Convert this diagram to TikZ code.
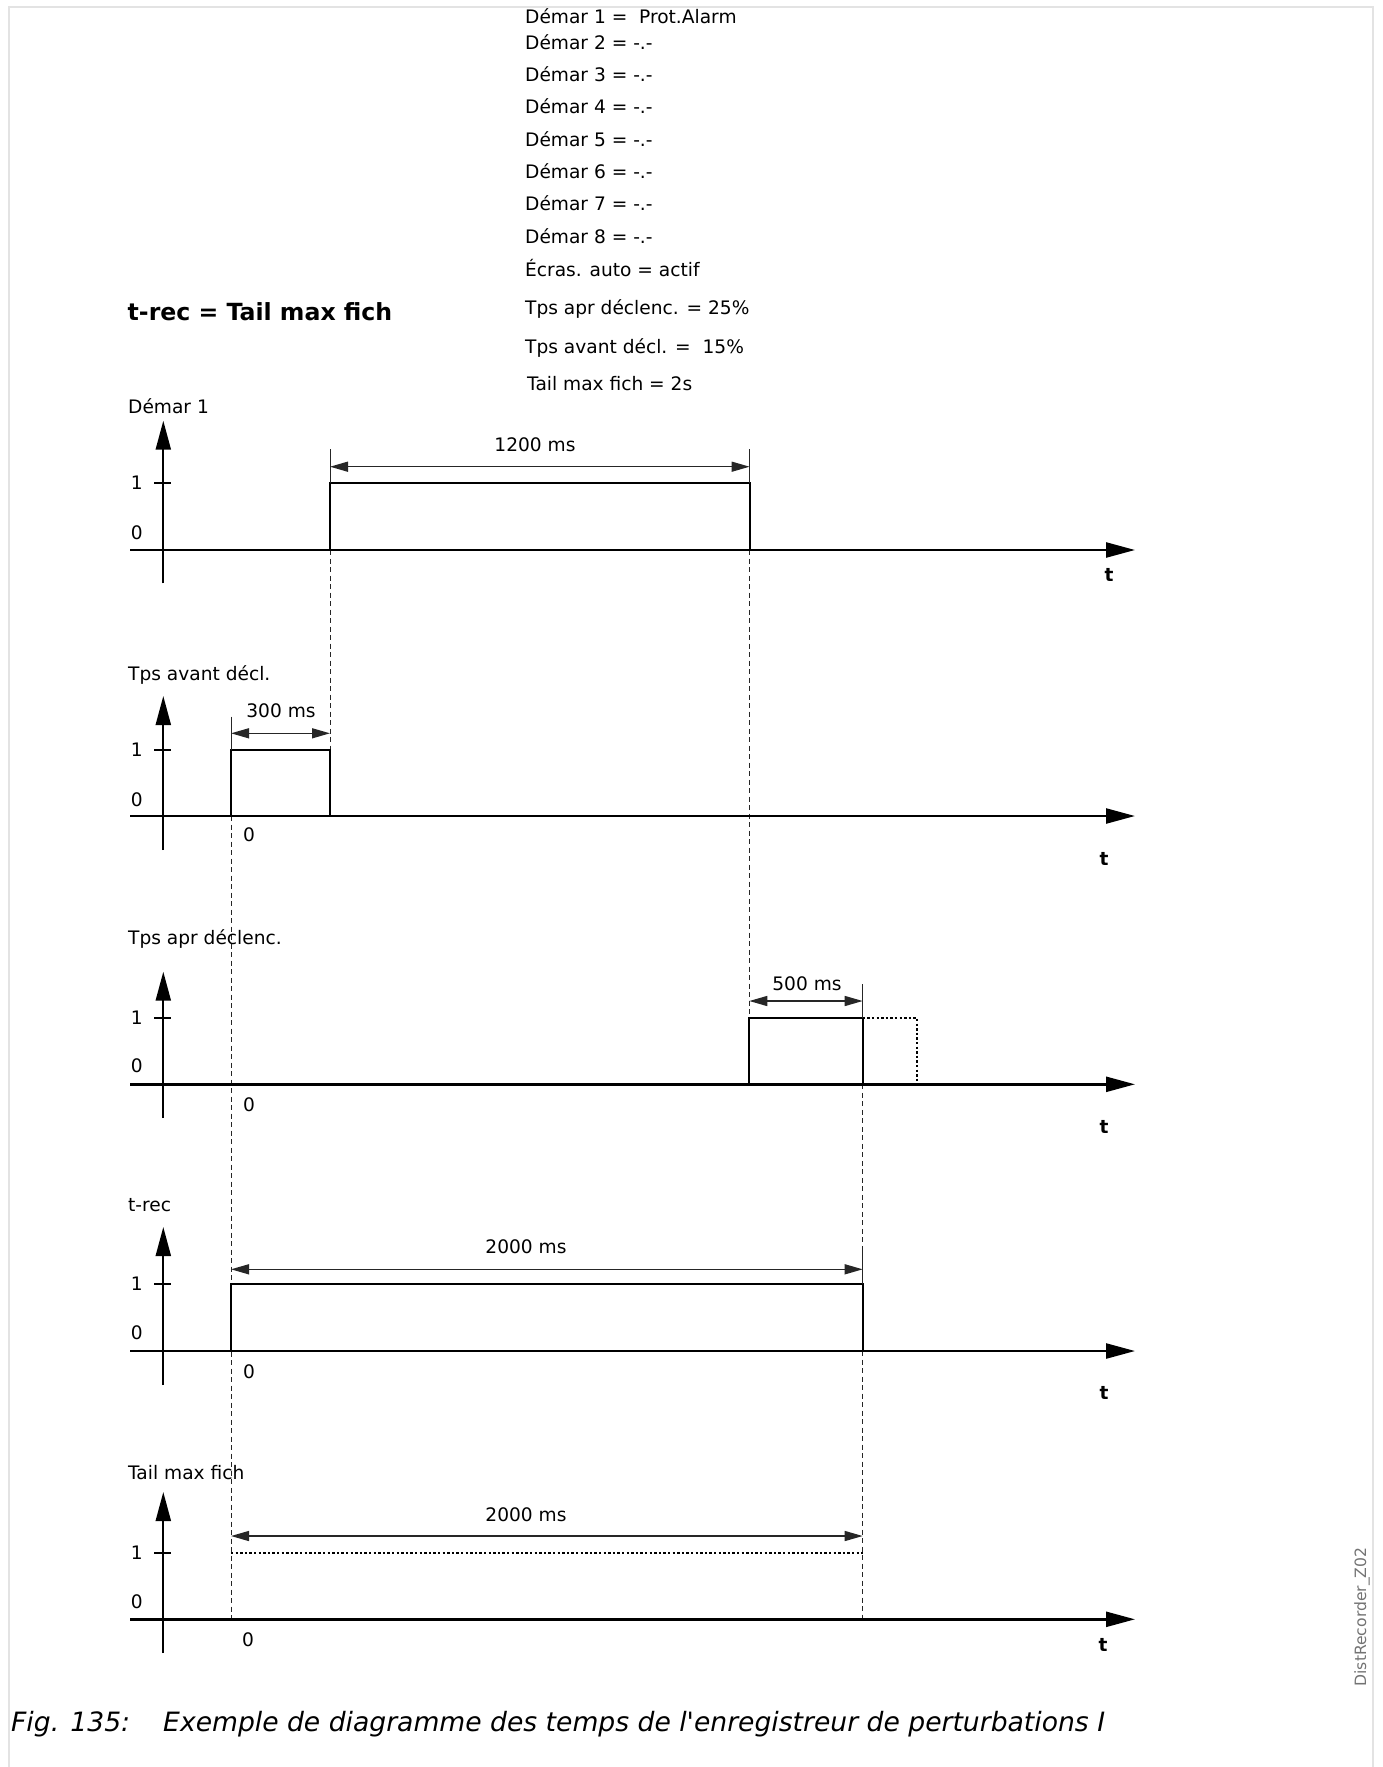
\documentclass[tikz,border=0pt]{standalone}
\usepackage{fontspec}
\setmainfont{DejaVu Sans}[Ligatures=TeXOff]
\usetikzlibrary{arrows.meta}
\definecolor{framec}{HTML}{E3E3E3}
\definecolor{dimc}{HTML}{262626}
\begin{document}
\begin{tikzpicture}[x=1pt,y=-1pt,
 txt/.style={font=\fontsize{18.6}{22}\selectfont,inner sep=0pt,anchor=base west},
 ctxt/.style={font=\fontsize{18.6}{22}\selectfont,inner sep=0pt,anchor=base},
 tlab/.style={font=\bfseries\fontsize{18.6}{22}\selectfont,inner sep=0pt,anchor=center},
 axisline/.style={line width=2.4pt,-{Triangle[length=29pt,width=15pt]}},
 yaxisline/.style={line width=2.2pt,-{Triangle[length=29pt,width=15pt]}},
 tickline/.style={line width=2pt},
 sig/.style={line width=2.2pt,line join=miter},
 dotsig/.style={line width=2.1pt,dash pattern=on 2.4pt off 2.2pt},
 dimline/.style={line width=1.4pt,dimc,{Triangle[length=18pt,width=10pt]}-{Triangle[length=18pt,width=10pt]}},
 extline/.style={line width=1pt,dimc},
 guide/.style={line width=1pt,dash pattern=on 5pt off 3.5pt,black!85},
 capt/.style={font=\itshape\fontsize{26.6}{30}\selectfont,inner sep=0pt,anchor=base west},
]
\useasboundingbox (0,0) rectangle (1382,1767);
\draw[framec,line width=2pt] (9,1767) -- (9,6.5) -- (1373,6.5) -- (1373,1767);

% settings list
\node[txt] (s1) at (525,23.5) {Démar 1 = \ Prot.Alarm};
\node[txt] (s2) at (525,49.5) {Démar 2 = -.-};
\node[txt] (s3) at (525,81.8) {Démar 3 = -.-};
\node[txt] (s4) at (525,113.5) {Démar 4 = -.-};
\node[txt] (s5) at (525,146.1) {Démar 5 = -.-};
\node[txt] (s6) at (525,178.5) {Démar 6 = -.-};
\node[txt] (s7) at (525,210.8) {Démar 7 = -.-};
\node[txt] (s8) at (525,243.5) {Démar 8 = -.-};
\node[txt] (s9) at (525,276.8) {Écras. auto = actif};
\node[txt] (s10) at (525,314.1) {Tps apr déclenc. = 25\%};
\node[txt] (s11) at (525,353.5) {Tps avant décl. = \ 15\%};
\node[txt] (s12) at (527,390.1) {Tail max fich = 2s};
\node[anchor=base west,font=\bfseries\fontsize{23.6}{26}\selectfont,inner sep=0pt] (title) at (127.5,320.3) {t-rec = Tail max fich};

% guides
\draw[guide] (330,550) -- (330,750);
\draw[guide] (749.5,550) -- (749.5,1017.7);
\draw[guide] (231,816) -- (231,1619.3);
\draw[guide] (862.7,1084.3) -- (862.7,1247);
\draw[guide] (862.7,1351) -- (862.7,1619.3);

% row 1
\node[txt] (l1) at (128,413.5) {Démar 1};
\draw[yaxisline] (163.3,583.3) -- (163.3,420.7);
\draw[tickline] (154,482.7) -- (171,482.7);
\draw[axisline] (130,550) -- (1135,550);
\node[ctxt] (r1one) at (136.7,489.5) {1};
\node[ctxt] (r1zero) at (136.7,539.8) {0};
\node[tlab] (r1t) at (1109,575) {t};
\draw[sig] (330,550) -- (330,482.7) -- (749.6,482.7) -- (749.6,550);
\draw[extline] (330,449) -- (330,482.7);
\draw[extline] (749.6,449) -- (749.6,482.7);
\draw[dimline] (330,466.7) -- (749.6,466.7);
\node[ctxt] (d1) at (535,451.8) {1200 ms};

% row 2
\node[txt] (l2) at (128,680.8) {Tps avant décl.};
\draw[yaxisline] (163.3,850) -- (163.3,696);
\draw[tickline] (154,750) -- (171,750);
\draw[axisline] (130,816) -- (1135,816);
\node[ctxt] (r2one) at (136.7,756.8) {1};
\node[ctxt] (r2zero) at (136.7,806.1) {0};
\node[ctxt] (r2o) at (249,841.8) {0};
\node[tlab] (r2t) at (1104,859) {t};
\draw[sig] (231,816) -- (231,750) -- (330,750) -- (330,816);
\draw[extline] (231,716.7) -- (231,750);
\draw[dimline] (231,733.3) -- (330,733.3);
\node[ctxt] (d2) at (281,717.5) {300 ms};

% row 3
\node[txt] (l3) at (128,944.8) {Tps apr déclenc.};
\draw[yaxisline] (163.3,1118) -- (163.3,971.7);
\draw[tickline] (154,1017.7) -- (171,1017.7);
\draw[axisline] (130,1084.3) -- (1135,1084.3);
\node[ctxt] (r3one) at (136.7,1024.5) {1};
\node[ctxt] (r3zero) at (136.7,1072.8) {0};
\node[ctxt] (r3o) at (249,1111.8) {0};
\node[tlab] (r3t) at (1104,1126.7) {t};
\draw[sig] (749.3,1084.3) -- (749.3,1017.7) -- (862.7,1017.7) -- (862.7,1084.3);
\draw[dotsig] (862.7,1017.7) -- (916.7,1017.7) -- (916.7,1084.3);
\draw[extline] (862.7,984) -- (862.7,1017.7);
\draw[dimline] (749.3,1001) -- (862.7,1001);
\node[ctxt] (d3) at (807,990.1) {500 ms};

% row 4
\node[txt] (l4) at (128,1211.8) {t-rec};
\draw[yaxisline] (163.3,1385) -- (163.3,1227);
\draw[tickline] (154,1284) -- (171,1284);
\draw[axisline] (130,1351) -- (1135,1351);
\node[ctxt] (r4one) at (136.7,1290.8) {1};
\node[ctxt] (r4zero) at (136.7,1339.8) {0};
\node[ctxt] (r4o) at (249,1378.8) {0};
\node[tlab] (r4t) at (1104,1393.3) {t};
\draw[sig] (231,1351) -- (231,1284) -- (862.7,1284) -- (862.7,1351);
\draw[extline] (862.7,1247) -- (862.7,1284);
\draw[dimline] (231,1269.3) -- (862.7,1269.3);
\node[ctxt] (d4) at (526,1253.8) {2000 ms};

% row 5
\node[txt] (l5) at (128,1479.8) {Tail max fich};
\draw[yaxisline] (163.3,1653) -- (163.3,1492);
\draw[tickline] (154,1552.7) -- (171,1552.7);
\draw[axisline] (130,1619.3) -- (1135,1619.3);
\node[ctxt] (r5one) at (136.7,1559.5) {1};
\node[ctxt] (r5zero) at (136.7,1608.5) {0};
\node[ctxt] (r5o) at (248,1646.8) {0};
\node[tlab] (r5t) at (1103,1645) {t};
\draw[dotsig] (231,1552.7) -- (862.7,1552.7);
\draw[dimline] (231,1536) -- (862.7,1536);
\node[ctxt] (d5) at (526,1521.8) {2000 ms};

% caption and tag
\node[capt] (figno) at (11,1731) {Fig. 135:};
\node[capt] (figtxt) at (163,1731) {Exemple de diagramme des temps de l'enregistreur de perturbations I};
\node[rotate=90,font=\fontsize{15.6}{18}\selectfont,text=black!55,inner sep=0pt] (tag) at (1362,1617) {DistRecorder\_Z02};
\end{tikzpicture}
\end{document}
